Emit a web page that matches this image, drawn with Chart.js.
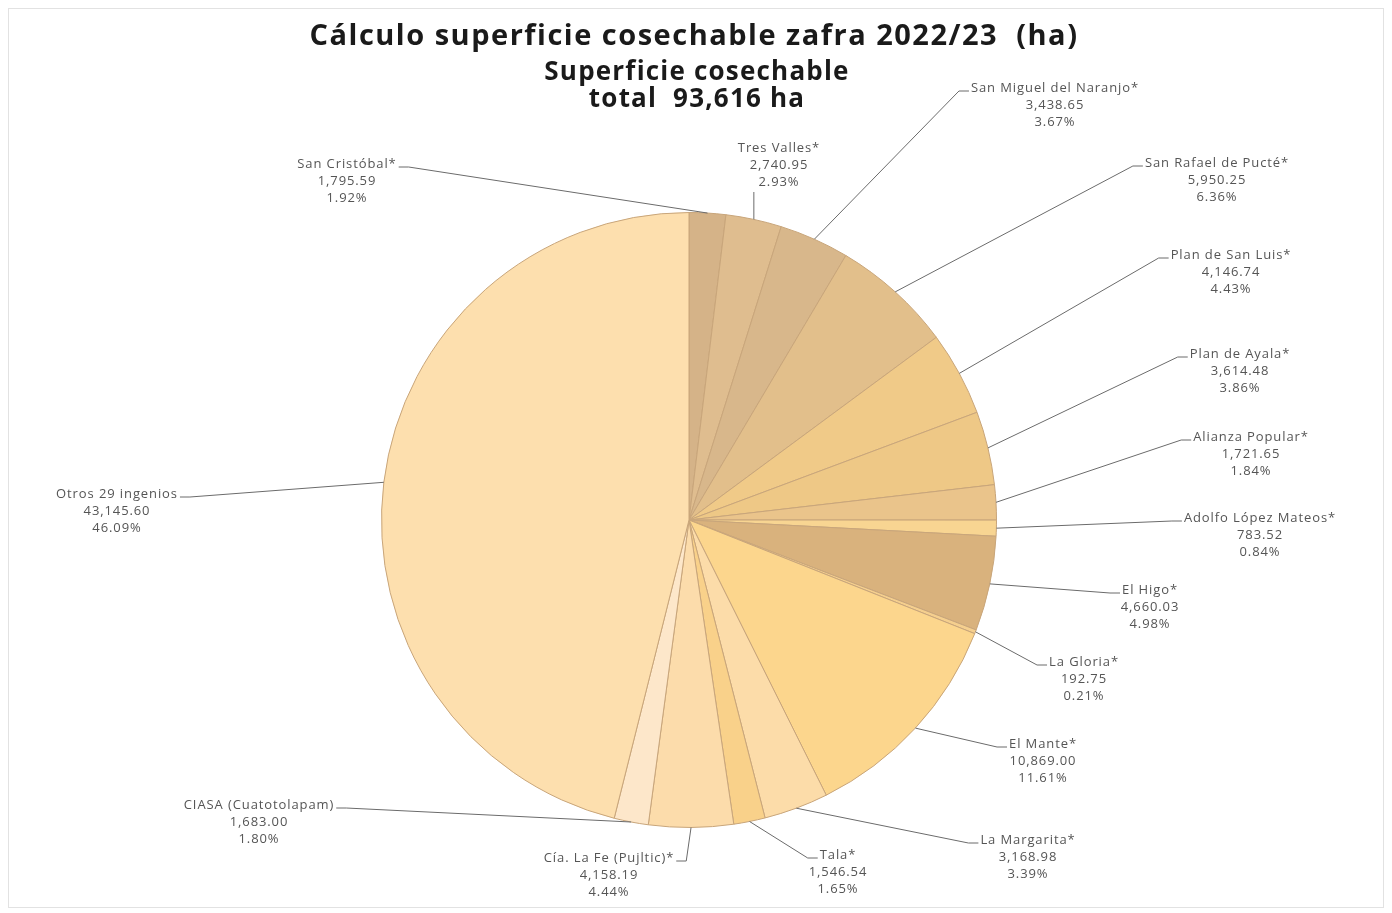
<!DOCTYPE html>
<html>
<head>
  <title>Superficie cosechable zafra 2022/23</title>
  <script src="https://cdn.jsdelivr.net/npm/chart.js"></script>
  <style>
    body { margin: 0; background: #fff; font-family: 'Open Sans', sans-serif; }
    #wrap { width: 1392px; height: 913px; }
  </style>
</head>
<body>
<div id="wrap"><canvas id="pie" width="1392" height="913"></canvas></div>
<script>
// ingenios, clockwise from 12 o'clock
const ingenios = ['San Cristóbal*', 'Tres Valles*', 'San Miguel del Naranjo*', 'San Rafael de Pucté*',
  'Plan de San Luis*', 'Plan de Ayala*', 'Alianza Popular*', 'Adolfo López Mateos*', 'El Higo*',
  'La Gloria*', 'El Mante*', 'La Margarita*', 'Tala*', 'Cía. La Fe (Pujltic)*',
  'CIASA (Cuatotolapam)', 'Otros 29 ingenios'];
const hectareas = [1795.59, 2740.95, 3438.65, 5950.25, 4146.74, 3614.48, 1721.65, 783.52, 4660.03,
  192.75, 10869.00, 3168.98, 1546.54, 4158.19, 1683.00, 43145.60];
const porcentajes = ['1.92%', '2.93%', '3.67%', '6.36%', '4.43%', '3.86%', '1.84%', '0.84%', '4.98%',
  '0.21%', '11.61%', '3.39%', '1.65%', '4.44%', '1.80%', '46.09%'];

const titulo = 'Cálculo superficie cosechable zafra 2022/23  (ha)';
const subtitulo = ['Superficie cosechable', 'total  93,616 ha'];

const colores = ['#d5b388', '#dfbd8f', '#d8b78b', '#e2bf8b', '#f0ca88', '#eec886', '#eac48b', '#f8d592',
  '#d9b27d', '#f5cf8e', '#fcd68d', '#fcdca9', '#f9d18a', '#fcdcab', '#fde7ca', '#fddfae'];

// where each label sits: text centre x, first line y, side the leader attaches to
const labelPos = [
  [347, 164, 'R'], [779, 148, 'B'], [1055, 88, 'L'], [1217, 163, 'L'], [1231, 255, 'L'],
  [1240, 354, 'L'], [1251, 437, 'L'], [1260, 518, 'L'], [1150, 590, 'L'], [1084, 662, 'L'],
  [1043, 744, 'L'], [1028, 840, 'L'], [838, 855, 'L'], [609, 858, 'R'], [259, 805, 'R'], [117, 494, 'R']
];

const fmt = v => v.toLocaleString('en-US', { minimumFractionDigits: 2, maximumFractionDigits: 2 });

const leaderLabels = {
  id: 'leaderLabels',
  afterDatasetsDraw(chart) {
    const ctx = chart.ctx;
    const arcs = chart.getDatasetMeta(0).data;
    ctx.save();
    ctx.textAlign = 'center';
    ctx.textBaseline = 'middle';

    // headings (drawn here so letter spacing can widen them)
    ctx.fillStyle = '#1a1a1a';
    ctx.font = 'bold 29px "Open Sans", sans-serif';
    ctx.letterSpacing = '1.5px';
    ctx.fillText(titulo, 694, 37);
    ctx.font = 'bold 26px "Open Sans", sans-serif';
    ctx.letterSpacing = '1.2px';
    ctx.fillText(subtitulo[0], 697, 73);
    ctx.fillText(subtitulo[1], 697, 100);

    ctx.font = '13px "Open Sans", sans-serif';
    ctx.letterSpacing = '0.9px';
    arcs.forEach((arc, i) => {
      const p = arc.getProps(['x', 'y', 'startAngle', 'endAngle', 'outerRadius'], true);
      const a = (p.startAngle + p.endAngle) / 2;
      const ax = p.x + Math.cos(a) * p.outerRadius;
      const ay = p.y + Math.sin(a) * p.outerRadius;
      const [cx, ny, side] = labelPos[i];
      const w = ctx.measureText(ingenios[i]).width;

      ctx.strokeStyle = '#6b6b6b';
      ctx.lineWidth = 1;
      ctx.beginPath();
      ctx.moveTo(ax, ay);
      if (side === 'L') {
        const tx = cx - w / 2;
        ctx.lineTo(tx - 12, ny + 3);
        ctx.lineTo(tx - 2, ny + 3);
      } else if (side === 'R') {
        const tx = cx + w / 2;
        ctx.lineTo(tx + 12, ny + 3);
        ctx.lineTo(tx + 2, ny + 3);
      } else {
        ctx.lineTo(ax, ny + 44);
      }
      ctx.stroke();

      ctx.fillStyle = '#555';
      ctx.fillText(ingenios[i], cx, ny);
      ctx.fillText(fmt(hectareas[i]), cx, ny + 17);
      ctx.fillText(porcentajes[i], cx, ny + 34);
    });
    // light frame round the picture
    ctx.strokeStyle = '#e2e2e2';
    ctx.strokeRect(8.5, 8.5, chart.width - 17, chart.height - 14);
    ctx.restore();
  }
};

new Chart(document.getElementById('pie'), {
  type: 'pie',
  data: {
    labels: ingenios,
    datasets: [{
      data: hectareas,
      backgroundColor: colores,
      borderColor: '#c8a57a',
      borderWidth: 1
    }]
  },
  options: {
    responsive: false,
    animation: false,
    layout: { padding: { left: 381, right: 395, top: 212, bottom: 85 } },
    plugins: {
      legend: { display: false },
      tooltip: { enabled: false },
      title: { display: false }
    }
  },
  plugins: [leaderLabels]
});
</script>
</body>
</html>
